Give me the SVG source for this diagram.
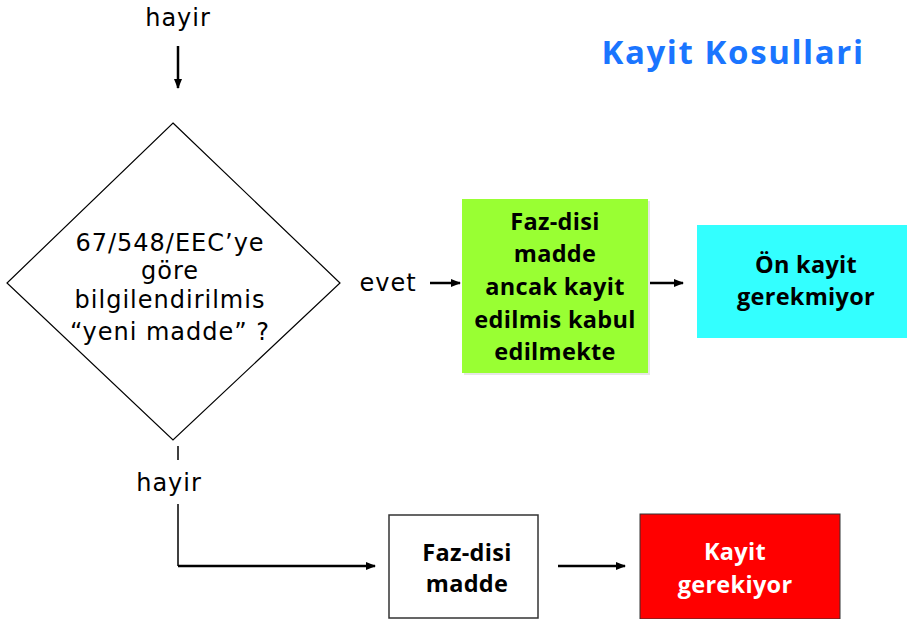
<svg xmlns="http://www.w3.org/2000/svg" width="907" height="619" viewBox="0 0 907 619">
<style>
text{font-family:"DejaVu Sans","Liberation Sans",sans-serif;font-size:24px;letter-spacing:1px;fill:#000;text-anchor:middle}
.b{font-family:"Open Sans","Liberation Sans",sans-serif;font-weight:bold;font-size:23.5px;letter-spacing:0.3px}
.ln{stroke:#000;stroke-width:2.5;fill:none}
</style>
<defs>
<marker id="ah" markerWidth="10" markerHeight="10" refX="9" refY="5" orient="auto" markerUnits="userSpaceOnUse">
<path d="M0,1 L10,5 L0,9 Z" fill="#000"/>
</marker>
</defs>
<rect width="907" height="619" fill="#fff"/>
<text x="733" y="64" class="b" style="font-size:33px;letter-spacing:1.6px;fill:#1a75ff">Kayit Kosullari</text>
<g id="connectors">
<line class="ln" x1="178" y1="46" x2="178" y2="88" marker-end="url(#ah)"/>
<line x1="178" y1="446" x2="178" y2="460" stroke="#000" stroke-width="1.5"/>
<line x1="178" y1="504" x2="178" y2="566" stroke="#000" stroke-width="1.5"/>
<line class="ln" x1="178" y1="566" x2="375" y2="566" marker-end="url(#ah)"/>
<line class="ln" x1="430" y1="283" x2="460" y2="283" marker-end="url(#ah)"/>
<line class="ln" x1="650" y1="283" x2="683" y2="283" marker-end="url(#ah)"/>
<line class="ln" x1="558" y1="566" x2="625" y2="566" marker-end="url(#ah)"/>
<text x="178" y="26">hayir</text>
<text x="169" y="491">hayir</text>
<text x="388" y="291">evet</text>
</g>
<g id="decision">
<polygon points="173,123 340,283 173,440 7,283" fill="#fff" stroke="#000" stroke-width="1.2"/>
<text x="170" y="251">67/548/EEC’ye</text>
<text x="170" y="279">göre</text>
<text x="170" y="308">bilgilendirilmis</text>
<text x="170" y="340">“yeni madde” ?</text>
</g>
<g id="green">
<rect x="464" y="201" width="186" height="174" fill="#e6e6e6"/>
<rect x="462" y="199" width="186" height="174" fill="#99ff33"/>
<text class="b" x="555" y="230">Faz-disi</text>
<text class="b" x="555" y="262">madde</text>
<text class="b" x="555" y="295">ancak kayit</text>
<text class="b" x="555" y="328">edilmis kabul</text>
<text class="b" x="555" y="360">edilmekte</text>
</g>
<g id="cyan">
<rect x="697" y="225" width="210" height="113" fill="#33ffff"/>
<text class="b" x="806" y="273">Ön kayit</text>
<text class="b" x="806" y="305">gerekmiyor</text>
</g>
<g id="white">
<rect x="389" y="515" width="149" height="103" fill="#fff" stroke="#333" stroke-width="1.5"/>
<text class="b" x="467" y="561">Faz-disi</text>
<text class="b" x="467" y="592">madde</text>
</g>
<g id="red">
<rect x="640" y="514" width="200" height="105" fill="#ff0000" stroke="#333" stroke-width="1"/>
<text class="b" x="735" y="560" style="fill:#fff">Kayit</text>
<text class="b" x="735" y="593" style="fill:#fff">gerekiyor</text>
</g>
</svg>
